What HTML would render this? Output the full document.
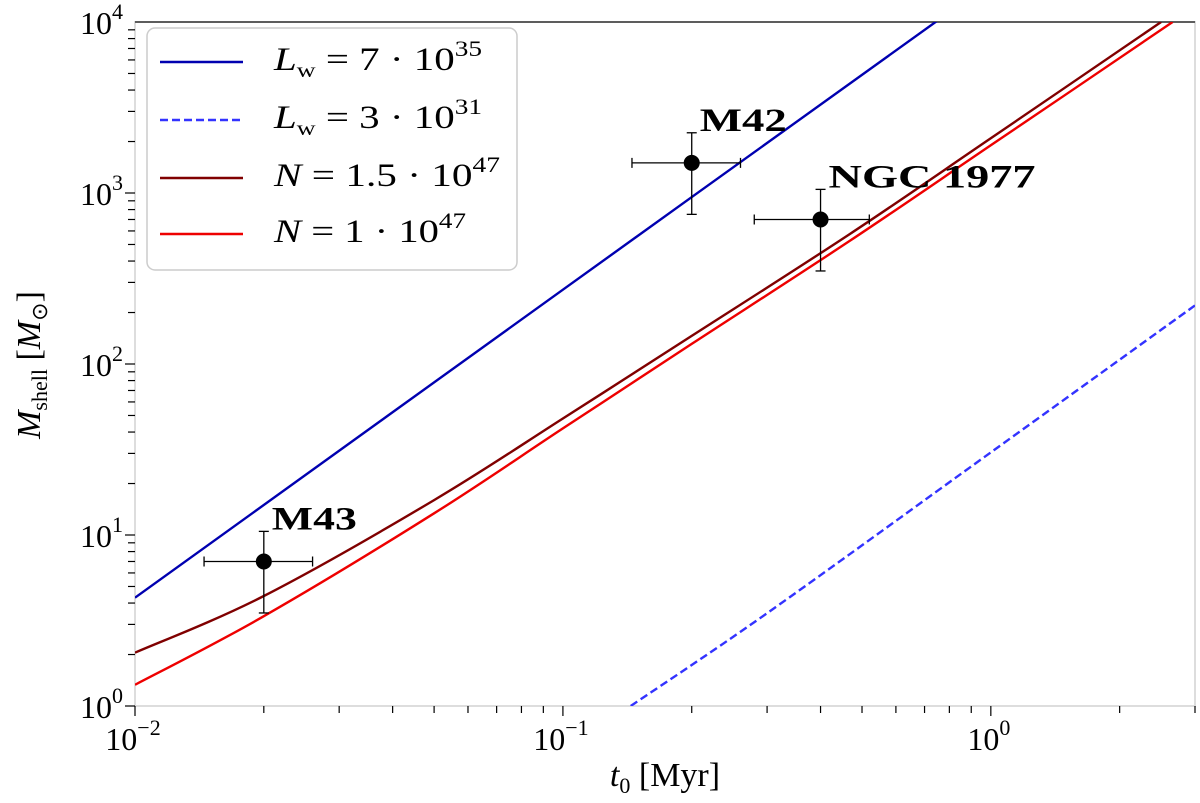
<!DOCTYPE html>
<html><head><meta charset="utf-8"><style>
body{margin:0;background:#fff}
svg{display:block;font-family:"Liberation Serif",serif}
</style></head><body>
<svg id="chart" width="1200" height="803"></svg>
<script>
const blueT=[0.01,0.1,0.75];
const blueM=[4.3,272,10180];
const dashT=[0.144,0.3,1,3];
const dashM=[1.0,3.49,30.4,220];
const darkT=[0.01,0.02,0.05,0.1,0.2,0.468,1,2.5];
const darkM=[2.05,4.4,16,48,146,575,2090,10000];
const redT=[0.01,0.02,0.05,0.1,0.2,0.468,1,2.66];
const redM=[1.33,3.35,13.4,42,131,525,1900,10000];
const ptNames=["M43","M42","NGC 1977"];
const ptT=[0.02,0.2,0.4];
const ptM=[7,1500,700];
const ptTlo=[0.0145,0.145,0.28];
const ptThi=[0.026,0.26,0.52];
const ptMlo=[3.5,750,350];
const ptMhi=[10.5,2250,1050];
const xTickVals=[0.01,0.1,1];
const xTickExp=["−2","−1","0"];
const yTickVals=[1,10,100,1000,10000];
const yTickExp=["0","1","2","3","4"];

const L=135,R=1195,T=22,B=706;
const xmin=-2,xmax=Math.log10(3),ymin=0,ymax=4;
const X=t=>L+(Math.log10(t)-xmin)/(xmax-xmin)*(R-L);
const Y=m=>B-(Math.log10(m)-ymin)/(ymax-ymin)*(B-T);
const svg=document.getElementById('chart');
const NS='http://www.w3.org/2000/svg';
function mk(tag,attrs,parent){const e=document.createElementNS(NS,tag);for(const k in attrs)e.setAttribute(k,attrs[k]);(parent||svg).appendChild(e);return e;}

const defs=mk('defs',{});
const cp=mk('clipPath',{id:'clip'},defs);
mk('rect',{x:L,y:T,width:R-L,height:B-T},cp);

let s=mk('rect',{x:L,y:T,width:R-L,height:B-T,fill:'none',stroke:'#ddd','stroke-width':2});


s=mk('line',{x1:L,y1:T,x2:R,y2:T,stroke:'#333','stroke-width':1.5});



for(let d=-2;d<=0;d++){for(let k=1;k<=9;k++){const v=k*Math.pow(10,d);if(v>3.001)continue;const x=X(v);
 const tk=mk('line',{x1:x,y1:B,x2:x,y2:B+(k==1?10:7),stroke:'#000','stroke-width':1.2});
 
 }}
xTickVals.forEach((v,i)=>{const t=mk('text',{x:X(v)-2,y:B+44,'font-size':32,'text-anchor':'middle'});
 
 
 t.innerHTML='10<tspan dy="-15" font-size="22">'+xTickExp[i]+'</tspan>';});
for(let d=0;d<4;d++){for(let k=1;k<=9;k++){const v=k*Math.pow(10,d);const y=Y(v);
 const tk=mk('line',{x1:L,y1:y,x2:L-(k==1?10:7),y2:y,stroke:'#000','stroke-width':1.2});
 
 }}
yTickVals.forEach((v,i)=>{const t=mk('text',{x:L-12,y:Y(v)+12,'font-size':32,'text-anchor':'end'});
 
 
 t.innerHTML='10<tspan dy="-15" font-size="22">'+yTickExp[i]+'</tspan>';});

function line(ts,ms,color,name,dash){
 const P=ts.map((t,i)=>[X(t),Y(ms[i])]);
 let d='M'+P[0][0].toFixed(1)+','+P[0][1].toFixed(1);
 for(let i=0;i<P.length-1;i++){const p0=P[Math.max(0,i-1)],p1=P[i],p2=P[i+1],p3=P[Math.min(P.length-1,i+2)];
  const c1=[p1[0]+(p2[0]-p0[0])/6,p1[1]+(p2[1]-p0[1])/6],c2=[p2[0]-(p3[0]-p1[0])/6,p2[1]-(p3[1]-p1[1])/6];
  d+=' C'+c1[0].toFixed(1)+','+c1[1].toFixed(1)+' '+c2[0].toFixed(1)+','+c2[1].toFixed(1)+' '+p2[0].toFixed(1)+','+p2[1].toFixed(1);}
 const e=mk('path',{d:d,fill:'none',stroke:color,'stroke-width':2.4,'clip-path':'url(#clip)'});
 if(dash)e.setAttribute('stroke-dasharray',dash);
 
 }
line(blueT,blueM,'#0000b0','line-lw-7e35');
line(dashT,dashM,'#3333ff','line-lw-3e31','8,4');
line(darkT,darkM,'#800000','line-n-1.5e47');
line(redT,redM,'#ee0000','line-n-1e47');

const lblW=[85,87,207];
ptT.forEach((t,i)=>{const g=mk('g',{});
 
 
 const x=X(t),y=Y(ptM[i]);
 mk('line',{x1:X(ptTlo[i]),y1:y,x2:X(ptThi[i]),y2:y,stroke:'#000','stroke-width':1.3},g);
 mk('line',{x1:X(ptTlo[i]),y1:y-5,x2:X(ptTlo[i]),y2:y+5,stroke:'#000','stroke-width':1.3},g);
 mk('line',{x1:X(ptThi[i]),y1:y-5,x2:X(ptThi[i]),y2:y+5,stroke:'#000','stroke-width':1.3},g);
 mk('line',{x1:x,y1:Y(ptMlo[i]),x2:x,y2:Y(ptMhi[i]),stroke:'#000','stroke-width':1.3},g);
 mk('line',{x1:x-5,y1:Y(ptMlo[i]),x2:x+5,y2:Y(ptMlo[i]),stroke:'#000','stroke-width':1.3},g);
 mk('line',{x1:x-5,y1:Y(ptMhi[i]),x2:x+5,y2:Y(ptMhi[i]),stroke:'#000','stroke-width':1.3},g);
 mk('circle',{cx:x,cy:y,r:8,fill:'#000'},g);
 const lb=mk('text',{x:x+8,y:y-32,'font-size':33,'font-weight':'bold',textLength:lblW[i],lengthAdjust:'spacingAndGlyphs'});
 
 
 lb.textContent=ptNames[i];});
</script>
<svg style="position:absolute;left:0;top:0" width="1200" height="803">
<g font-family="Liberation Serif,serif" font-size="33">
<rect x="147" y="28" width="370" height="242" rx="8" fill="#fff" fill-opacity="0.85" stroke="#ccc" stroke-width="1.5"/>
<g><line x1="160" y1="62" x2="243" y2="62" stroke="#0000b0" stroke-width="2.4"/><text x="274" y="70" textLength="208" lengthAdjust="spacingAndGlyphs"><tspan font-style="italic">L</tspan><tspan font-size="21" dy="7">w</tspan><tspan dy="-7"> = 7 · 10</tspan><tspan font-size="22" dy="-14">35</tspan></text></g>
<g><line x1="160" y1="120" x2="243" y2="120" stroke="#3333ff" stroke-width="2.4" stroke-dasharray="8,4"/><text x="274" y="128" textLength="208" lengthAdjust="spacingAndGlyphs"><tspan font-style="italic">L</tspan><tspan font-size="21" dy="7">w</tspan><tspan dy="-7"> = 3 · 10</tspan><tspan font-size="22" dy="-14">31</tspan></text></g>
<g><line x1="160" y1="178" x2="243" y2="178" stroke="#800000" stroke-width="2.4"/><text x="274" y="186" textLength="226" lengthAdjust="spacingAndGlyphs"><tspan font-style="italic">N</tspan> = 1.5 · 10<tspan font-size="22" dy="-14">47</tspan></text></g>
<g><line x1="160" y1="234" x2="243" y2="234" stroke="#ee0000" stroke-width="2.4"/><text x="274" y="242" textLength="192" lengthAdjust="spacingAndGlyphs"><tspan font-style="italic">N</tspan> = 1 · 10<tspan font-size="22" dy="-14">47</tspan></text></g>
</g>
<text x="665" y="786" font-family="Liberation Serif,serif" font-size="34" text-anchor="middle"><tspan font-style="italic">t</tspan><tspan font-size="22" dy="7">0</tspan><tspan dy="-7"> [Myr]</tspan></text>
<text transform="translate(40,365) rotate(-90)" font-family="Liberation Serif,serif" font-size="34" text-anchor="middle"><tspan font-style="italic">M</tspan><tspan font-size="22" dy="7">shell</tspan><tspan dy="-7"> [</tspan><tspan font-style="italic">M</tspan><tspan font-size="22" dy="7">⊙</tspan><tspan dy="-7">]</tspan></text>
</svg>
</body></html>
